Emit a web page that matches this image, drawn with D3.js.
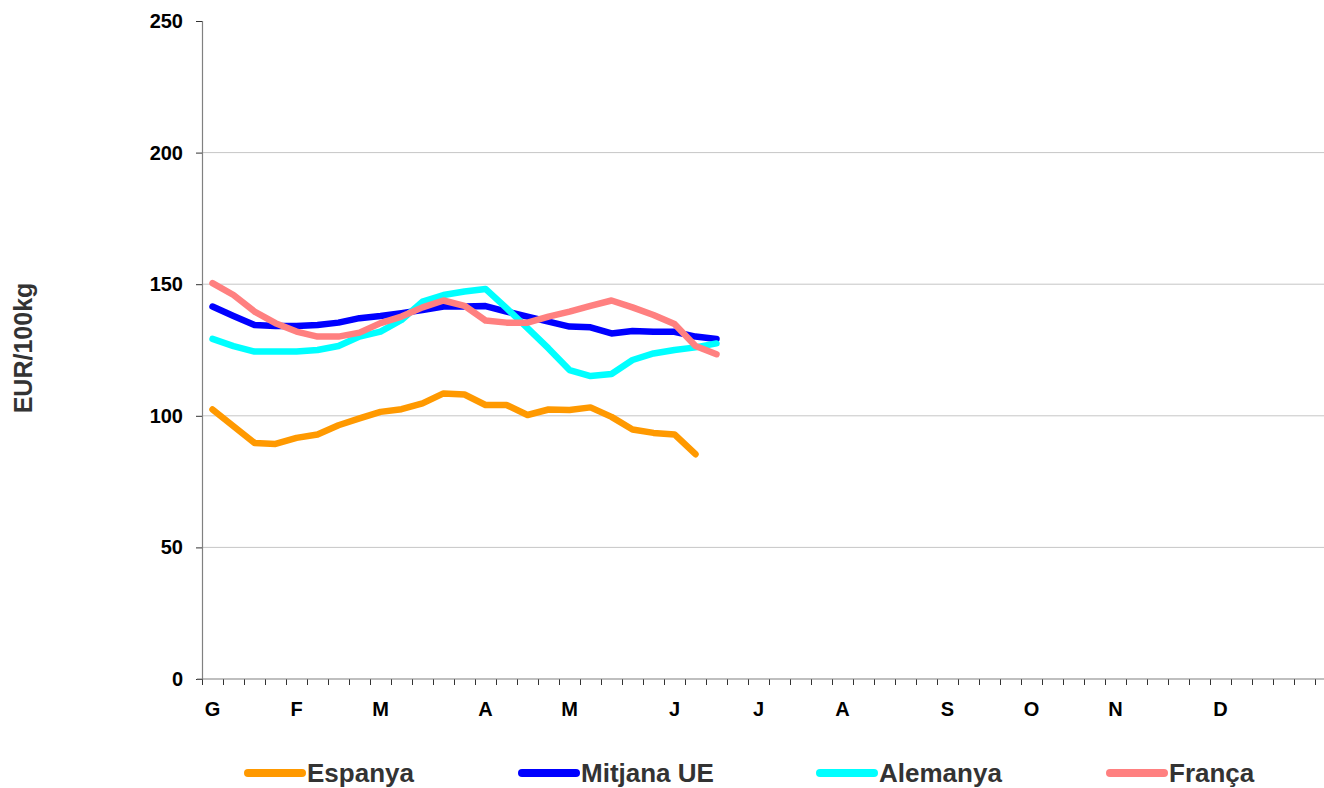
<!DOCTYPE html>
<html>
<head>
<meta charset="utf-8">
<script src="https://cdn.jsdelivr.net/npm/d3@7"></script>
<style>
  body { margin: 0; background: #fff; }
  svg { display: block; font-family: "Liberation Sans", Arial, sans-serif; }
</style>
</head>
<body>
<svg id="chart" width="1324" height="788"></svg>
<script>
// 53 setmanes, lletra del mes a la primera setmana de cada mes
const weekLabels = [
  "G", "", "", "", "F", "", "", "", "M", "", "", "", "", "A", "", "", "",
  "M", "", "", "", "", "J", "", "", "", "J", "", "", "", "A", "", "", "", "",
  "S", "", "", "", "O", "", "", "", "N", "", "", "", "", "D", "", "", "", ""
];

const espanya = [102.4, 96.0, 89.7, 89.3, 91.6, 92.9, 96.4, 99.0, 101.5, 102.5, 104.7, 108.5,
  108.1, 104.1, 104.1, 100.3, 102.4, 102.2, 103.2, 99.6, 94.8, 93.5, 92.9, 85.4];
const mitjanaUE = [141.5, 137.9, 134.5, 134.1, 134.1, 134.5, 135.4, 137.1, 137.9, 139.0, 140.2, 141.5,
  141.5, 141.7, 139.6, 137.7, 135.8, 133.9, 133.6, 131.3, 132.2, 131.9, 131.9, 130.1, 129.2];
const alemanya = [129.2, 126.5, 124.4, 124.4, 124.4, 125.0, 126.5, 130.1, 132.0, 136.4, 143.4, 145.9,
  147.2, 148.2, 140.9, 133.3, 125.6, 117.4, 115.1, 115.9, 121.2, 123.7, 125.0, 126.0, 127.5];
const franca = [150.4, 145.9, 139.6, 135.2, 132.0, 130.1, 130.1, 131.6, 135.2, 137.7, 141.2, 143.8,
  141.8, 136.2, 135.4, 135.4, 137.7, 139.6, 141.8, 143.8, 141.2, 138.3, 134.9, 126.5, 123.4];

const yTicks = [0, 50, 100, 150, 200, 250];

const series = [
  { name: "Espanya", values: espanya, color: "#ff9900" },
  { name: "Mitjana UE", values: mitjanaUE, color: "#0000ff" },
  { name: "Alemanya", values: alemanya, color: "#00ffff" },
  { name: "França", values: franca, color: "#ff8080" },
];

const svg = d3.select("#chart");
const plotLeft = 202, plotRight = 1315, plotTop = 21, plotBottom = 679;

const x = d3.scaleLinear().domain([0, weekLabels.length]).range([plotLeft, plotRight]);
const y = d3.scaleLinear().domain([0, 250]).range([plotBottom, plotTop]);

// gridlines
svg.append("g")
  .selectAll("line")
  .data(yTicks.filter((t) => t > 0 && t < 250))
  .join("line")
  .attr("x1", plotLeft).attr("x2", 1324)
  .attr("y1", (d) => y(d)).attr("y2", (d) => y(d))
  .attr("stroke", "#c6c6c6").attr("stroke-width", 1);

// y axis
const yAxis = svg.append("g")
  .attr("transform", `translate(${plotLeft},0)`)
  .call(d3.axisLeft(y).tickValues(yTicks).tickSize(6).tickPadding(13));
yAxis.select(".domain").attr("stroke", "#808080").attr("stroke-width", 1.2);
yAxis.selectAll(".tick line").attr("stroke", "#333");
yAxis.selectAll("text")
  .attr("font-size", 20).attr("font-weight", "bold").attr("fill", "#000")
  .attr("font-family", "'Liberation Sans', Arial, sans-serif");

// x axis (ticks between weeks)
const xAxis = svg.append("g")
  .attr("transform", `translate(0,${plotBottom})`)
  .call(d3.axisBottom(x).tickValues(d3.range(weekLabels.length + 1)).tickSize(6).tickSizeOuter(0).tickFormat(""));
xAxis.select(".domain").remove();
xAxis.selectAll(".tick line").attr("stroke", "#333");
svg.append("line")
  .attr("x1", plotLeft - 5).attr("x2", 1324)
  .attr("y1", plotBottom).attr("y2", plotBottom)
  .attr("stroke", "#808080").attr("stroke-width", 1.2);

svg.append("g")
  .selectAll("text")
  .data(weekLabels.map((l, i) => ({ l, i })).filter((d) => d.l))
  .join("text")
  .attr("x", (d) => x(d.i + 0.5))
  .attr("y", 716)
  .attr("text-anchor", "middle")
  .attr("font-size", 20).attr("font-weight", "bold")
  .text((d) => d.l);

// y title
svg.append("text")
  .attr("transform", "translate(32,348) rotate(-90)")
  .attr("text-anchor", "middle")
  .attr("font-size", 25).attr("font-weight", "bold").attr("fill", "#333")
  .text("EUR/100kg");

// lines
const line = d3.line()
  .x((d, i) => x(i + 0.5))
  .y((d) => y(d));

svg.append("g")
  .selectAll("path")
  .data(series)
  .join("path")
  .attr("d", (d) => line(d.values))
  .attr("fill", "none")
  .attr("stroke", (d) => d.color)
  .attr("stroke-width", 6.5)
  .attr("stroke-linejoin", "round")
  .attr("stroke-linecap", "round");

// legend
const legendX = [248, 522, 820, 1110];
const lg = svg.append("g")
  .selectAll("g")
  .data(series)
  .join("g")
  .attr("transform", (d, i) => `translate(${legendX[i]},773)`);
lg.append("line")
  .attr("x1", 0).attr("x2", 54)
  .attr("stroke", (d) => d.color)
  .attr("stroke-width", 8)
  .attr("stroke-linecap", "round");
lg.append("text")
  .attr("x", 59).attr("y", 9)
  .attr("font-size", 26).attr("font-weight", "bold").attr("fill", "#333")
  .text((d) => d.name);
</script>
</body>
</html>
